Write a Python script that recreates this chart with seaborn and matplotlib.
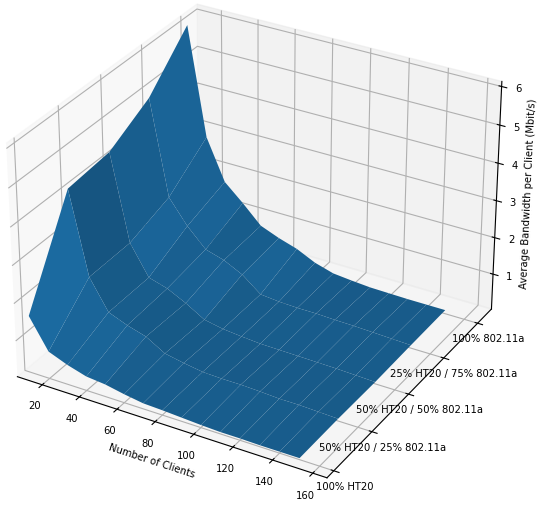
import numpy as np
import matplotlib
matplotlib.use("Agg")
import matplotlib.pyplot as plt
import seaborn as sns

sns.reset_orig()
clients = [10, 20, 30, 40, 50, 60, 70, 80, 90, 100, 110, 120, 130, 140, 150]
mix_labels = ["100% HT20", "50% HT20 / 25% 802.11a", "50% HT20 / 50% 802.11a",
              "25% HT20 / 75% 802.11a", "100% 802.11a"]
mix_100ht = [1.63, 0.83, 0.63, 0.48, 0.43, 0.33, 0.25, 0.23, 0.2, 0.17, 0.15, 0.15, 0.14, 0.14, 0.14]
mix_50_25 = [4.1, 1.9, 1.1, 0.9, 0.75, 0.45, 0.35, 0.27, 0.25, 0.25, 0.23, 0.2, 0.2, 0.18, 0.16]
mix_50_50 = [4.22, 1.92, 1.12, 0.97, 0.72, 0.42, 0.32, 0.27, 0.23, 0.22, 0.21, 0.2, 0.19, 0.17, 0.15]
mix_25_75 = [4.84, 2.29, 1.64, 1.14, 0.99, 0.74, 0.34, 0.29, 0.27, 0.27, 0.25, 0.24, 0.22, 0.2, 0.18]
mix_100a = [6.0, 3.1, 2.0, 1.55, 1.06, 0.86, 0.7, 0.46, 0.31, 0.26, 0.22, 0.21, 0.2, 0.2, 0.2]

X, Y = np.meshgrid(clients, np.arange(len(mix_labels)))
Z = np.array([mix_100ht, mix_50_25, mix_50_50, mix_25_75, mix_100a]) - 0.07

fig = plt.figure(figsize=(5.5, 5.07), dpi=100)
ax = fig.add_axes([-0.0865, -0.011, 1.087, 1.087], projection="3d")
ax.plot_surface(X, Y, Z, color="tab:blue")
ax.set_xlim(6.5, 167)
ax.set_ylim(-0.175, 4.42)
ax.set_zlim(0.03, 6.13)
ax.set_xticks(range(20, 161, 20))
ax.set_yticks(range(5))
ax.set_yticklabels(mix_labels, fontsize=7.2)
ax.set_zticks(range(1, 7))
ax.tick_params(labelsize=7.2)
ax.tick_params(axis="x", pad=0.75)
ax.tick_params(axis="y", pad=-1)
ax.tick_params(axis="z", pad=-0.7)
ax.set_xlabel("Number of Clients", fontsize=7.2, labelpad=-3)
ax.set_zlabel("Average Bandwidth per Client (Mbit/s)", fontsize=7.2, labelpad=-7)
fig.savefig("out.png", dpi=100)
